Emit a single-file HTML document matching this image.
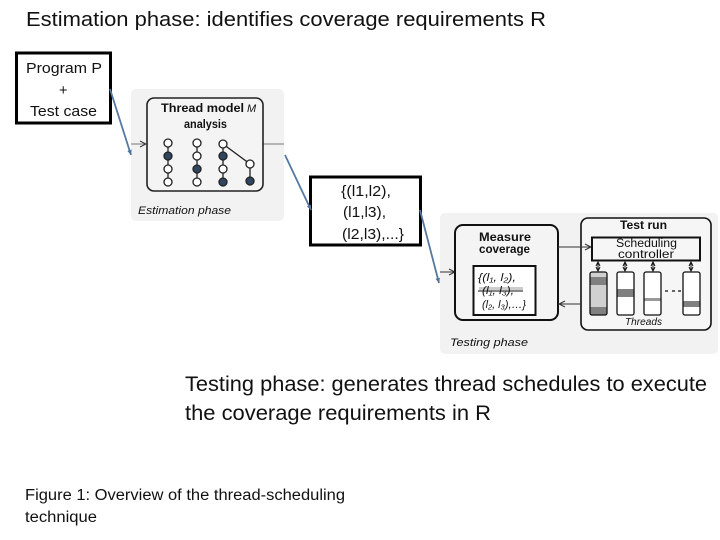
<!DOCTYPE html>
<html><head><meta charset="utf-8"><style>
html,body{margin:0;padding:0;background:#fff}
svg{display:block}
text{font-family:"Liberation Sans",sans-serif;fill:#111}
</style></head><body>
<svg width="720" height="540" viewBox="0 0 720 540" xmlns="http://www.w3.org/2000/svg">
<defs>
<marker id="a" markerUnits="userSpaceOnUse" markerWidth="7" markerHeight="7" refX="5" refY="3.500" orient="auto"><path d="M0,1.200L5,3.500L0,5.800Z" fill="#4f7399"/></marker>
<marker id="k" markerWidth="8" markerHeight="8" refX="7" refY="4" orient="auto"><path d="M1,1L7,4L1,7" fill="none" stroke="#333" stroke-width="1"/></marker>
<marker id="d" markerWidth="6" markerHeight="6" refX="5" refY="3" orient="auto-start-reverse"><path d="M1,1L5,3L1,5" fill="none" stroke="#111" stroke-width="1"/></marker>
</defs>
<text x="26" y="26" font-size="20" textLength="520" lengthAdjust="spacingAndGlyphs">Estimation phase: identifies coverage requirements R</text>

<!-- Estimation panel -->
<rect x="131" y="89" width="153" height="132" rx="5" fill="#f2f2f2"/>
<line x1="131" y1="144" x2="146" y2="144" stroke="#777" marker-end="url(#k)"/>
<line x1="263" y1="144" x2="284" y2="144" stroke="#777"/>
<rect x="147" y="98" width="116" height="93" rx="7" fill="#f4f4f4" stroke="#222" stroke-width="1.600"/>
<text x="161" y="112" font-size="11.500" font-weight="bold" textLength="83" lengthAdjust="spacingAndGlyphs" fill="#333">Thread model</text>
<text x="247" y="112" font-size="11" font-style="italic" font-family="Liberation Serif" fill="#666">M</text>
<text x="184" y="128" font-size="11.500" font-weight="bold" textLength="43" lengthAdjust="spacingAndGlyphs" fill="#333">analysis</text>
<g stroke="#222" stroke-width="1.300" fill="none">
<path d="M168 143V182M197 143V182M223 143V182M223 144L250 164V181"/>
</g>
<g stroke="#222" stroke-width="1.300" fill="#fff">
<circle cx="168" cy="143" r="4"/><circle cx="168" cy="156" r="4" fill="#2f4560"/><circle cx="168" cy="169" r="4"/><circle cx="168" cy="182" r="4"/>
<circle cx="197" cy="143" r="4"/><circle cx="197" cy="156" r="4"/><circle cx="197" cy="169" r="4" fill="#2f4560"/><circle cx="197" cy="182" r="4"/>
<circle cx="223" cy="144" r="4"/><circle cx="223" cy="156" r="4" fill="#2f4560"/><circle cx="223" cy="169" r="4"/><circle cx="223" cy="182" r="4" fill="#2f4560"/>
<circle cx="250" cy="164" r="4"/><circle cx="250" cy="181" r="4" fill="#2f4560"/>
</g>
<text x="138" y="214" font-size="11" font-style="italic" textLength="93" lengthAdjust="spacingAndGlyphs" fill="#333">Estimation phase</text>

<!-- Testing panel -->
<rect x="440" y="213" width="278" height="141" rx="5" fill="#f2f2f2"/>
<line x1="440" y1="272" x2="455" y2="272" stroke="#333" marker-end="url(#k)"/>
<rect x="455" y="225" width="103" height="95" rx="8" fill="#f4f4f4" stroke="#111" stroke-width="2"/>
<text x="479" y="241" font-size="11.500" font-weight="bold" textLength="52" lengthAdjust="spacingAndGlyphs" fill="#222">Measure</text>
<text x="479" y="253" font-size="11.500" font-weight="bold" textLength="51" lengthAdjust="spacingAndGlyphs" fill="#222">coverage</text>
<rect x="473.500" y="266" width="62" height="49" fill="#fff" stroke="#111" stroke-width="2"/>
<rect x="479" y="287" width="44" height="3" fill="#ccc"/>
<line x1="478" y1="291" x2="523" y2="291" stroke="#111"/>
<text x="478" y="281" font-size="11" font-style="italic" font-family="Liberation Serif" textLength="38" lengthAdjust="spacingAndGlyphs">{(l₁, l₂),</text>
<text x="482" y="294" font-size="11" font-style="italic" font-family="Liberation Serif" textLength="32" lengthAdjust="spacingAndGlyphs">(l₁, l₃),</text>
<text x="482" y="308" font-size="11" font-style="italic" font-family="Liberation Serif" textLength="44" lengthAdjust="spacingAndGlyphs">(l₂, l₃),…}</text>

<rect x="581" y="218" width="130" height="112" rx="7" fill="#f6f6f6" stroke="#111" stroke-width="1.600"/>
<text x="620" y="229" font-size="11.500" font-weight="bold" textLength="47" lengthAdjust="spacingAndGlyphs" fill="#222">Test run</text>
<line x1="558" y1="247" x2="591" y2="247" stroke="#333" marker-end="url(#k)"/>
<line x1="581" y1="304" x2="559" y2="304" stroke="#333" marker-end="url(#k)"/>
<rect x="592" y="237.500" width="108" height="23" fill="#f6f6f6" stroke="#111" stroke-width="2"/>
<text x="616" y="247" font-size="11.500" textLength="61" lengthAdjust="spacingAndGlyphs" fill="#555">Scheduling</text>
<text x="618" y="258" font-size="12" textLength="56" lengthAdjust="spacingAndGlyphs" fill="#111">controller</text>
<g stroke="#111" stroke-width="1">
<line x1="598" y1="262" x2="598" y2="271" marker-start="url(#d)" marker-end="url(#d)"/>
<line x1="625" y1="262" x2="625" y2="271" marker-start="url(#d)" marker-end="url(#d)"/>
<line x1="653" y1="262" x2="653" y2="271" marker-start="url(#d)" marker-end="url(#d)"/>
<line x1="691" y1="262" x2="691" y2="271" marker-start="url(#d)" marker-end="url(#d)"/>
</g>
<g>
<rect x="590" y="272" width="17" height="43" rx="2" fill="#d0d0d0"/>
<rect x="590" y="277" width="17" height="8" fill="#808080"/><rect x="590" y="307" width="17" height="8" fill="#808080"/>
<rect x="590" y="272" width="17" height="43" rx="2" fill="none" stroke="#111" stroke-width="1.300"/>
<rect x="617" y="272" width="17" height="43" rx="2" fill="#fff"/>
<rect x="617" y="289" width="17" height="8" fill="#808080"/>
<rect x="617" y="272" width="17" height="43" rx="2" fill="none" stroke="#111" stroke-width="1.300"/>
<rect x="644" y="272" width="17" height="43" rx="2" fill="#fff"/>
<rect x="644" y="298" width="17" height="3" fill="#999"/>
<rect x="644" y="272" width="17" height="43" rx="2" fill="none" stroke="#111" stroke-width="1.300"/>
<rect x="683" y="272" width="17" height="43" rx="2" fill="#fff"/>
<rect x="683" y="301" width="17" height="6" fill="#808080"/>
<rect x="683" y="272" width="17" height="43" rx="2" fill="none" stroke="#111" stroke-width="1.300"/>
</g>
<path d="M665 291h3M672 291h3M678 291h3" stroke="#111" stroke-width="1.200"/>
<text x="625" y="325" font-size="10" font-style="italic" textLength="37" lengthAdjust="spacingAndGlyphs" fill="#333">Threads</text>
<text x="450" y="346" font-size="11" font-style="italic" textLength="78" lengthAdjust="spacingAndGlyphs" fill="#222">Testing phase</text>

<!-- Black boxes -->
<rect x="16.500" y="53" width="94" height="70" fill="#fff" stroke="#000" stroke-width="3"/>
<text x="26" y="73" font-size="14.500" textLength="76" lengthAdjust="spacingAndGlyphs">Program P</text>
<text x="59" y="95" font-size="14.500">+</text>
<text x="30" y="116" font-size="14.500" textLength="67" lengthAdjust="spacingAndGlyphs">Test case</text>

<rect x="310.500" y="177" width="110" height="68" fill="#fff" stroke="#000" stroke-width="3"/>
<text x="341" y="196" font-size="15" textLength="50" lengthAdjust="spacingAndGlyphs">{(l1,l2),</text>
<text x="343" y="217" font-size="15" textLength="43" lengthAdjust="spacingAndGlyphs">(l1,l3),</text>
<text x="342" y="239" font-size="15" textLength="62" lengthAdjust="spacingAndGlyphs">(l2,l3),...}</text>

<!-- Connectors -->
<g stroke="#55799f" stroke-width="1.800" fill="none">
<line x1="110" y1="89" x2="131" y2="155" marker-end="url(#a)"/>
<line x1="285" y1="155" x2="311" y2="210" marker-end="url(#a)"/>
<line x1="420" y1="210" x2="439" y2="283" marker-end="url(#a)"/>
</g>

<text x="185" y="391" font-size="21" textLength="522" lengthAdjust="spacingAndGlyphs">Testing phase: generates thread schedules to execute</text>
<text x="185" y="420" font-size="21" textLength="306" lengthAdjust="spacingAndGlyphs">the coverage requirements in R</text>
<text x="25" y="500" font-size="15.500" textLength="320" lengthAdjust="spacingAndGlyphs">Figure 1: Overview of the thread-scheduling</text>
<text x="25" y="522" font-size="15.500" textLength="72" lengthAdjust="spacingAndGlyphs">technique</text>
</svg>
</body></html>
